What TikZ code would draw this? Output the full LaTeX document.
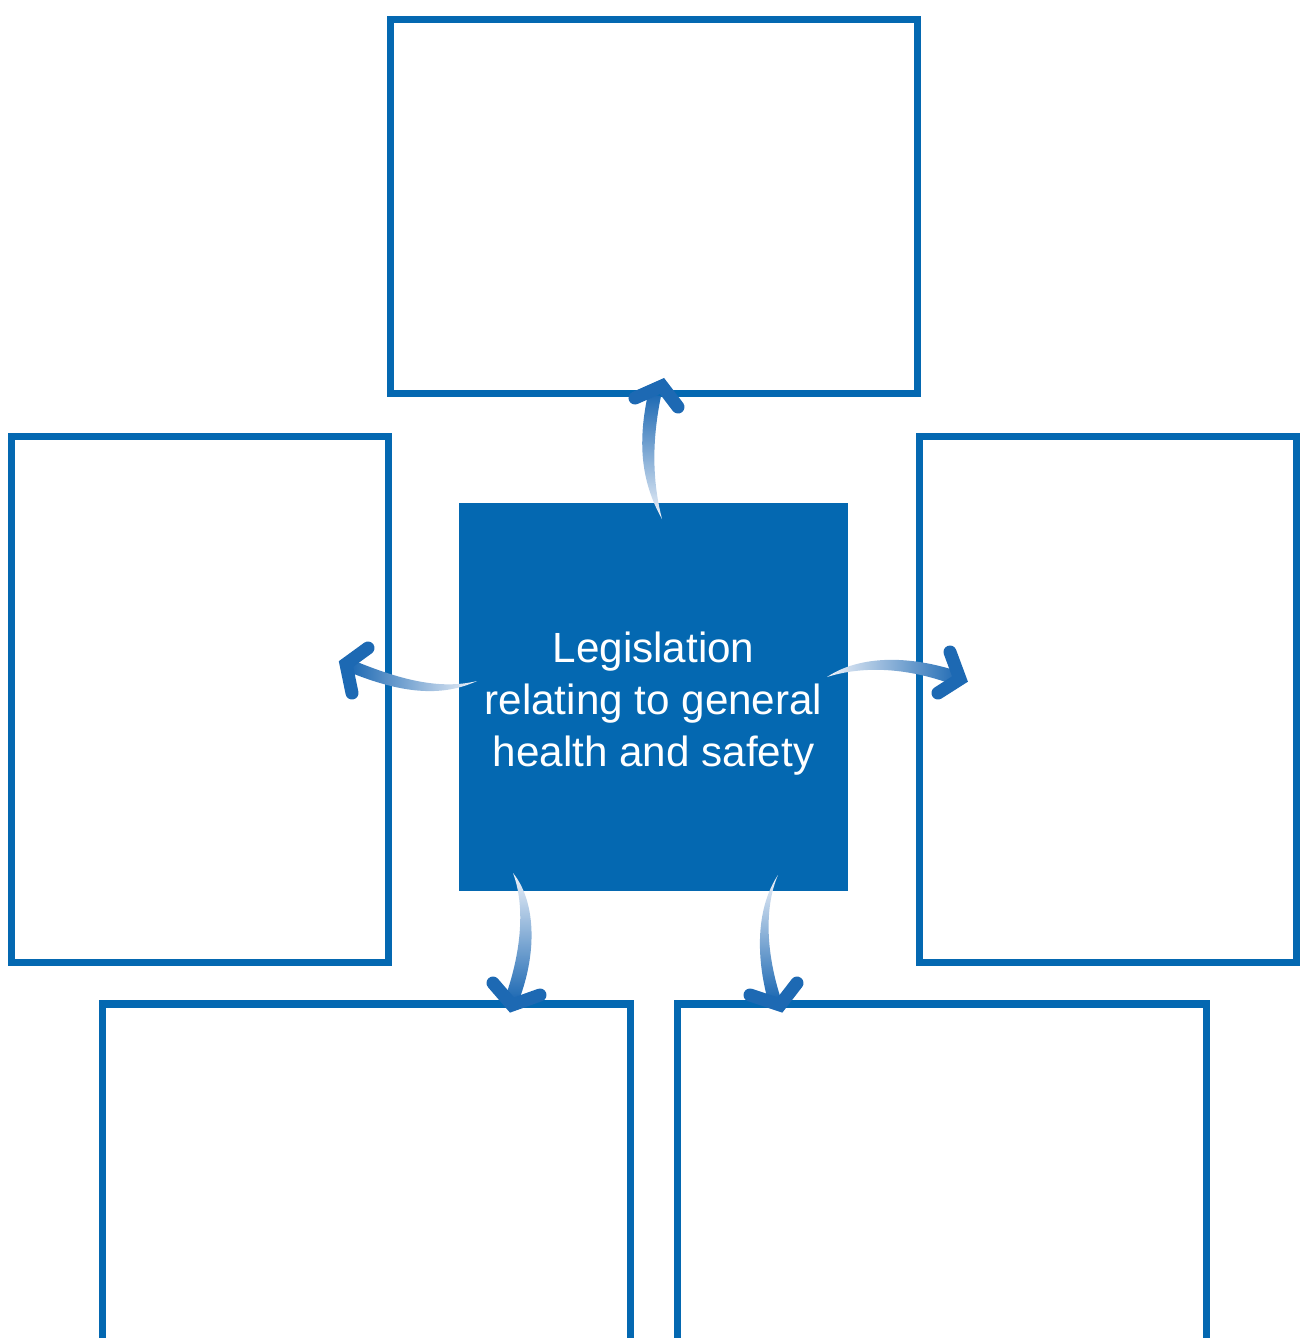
\documentclass[tikz,border=0pt]{standalone}
\usepackage{fontspec}
\setmainfont{Liberation Sans}
\definecolor{xanhkhung}{HTML}{0468B1}
\definecolor{xanhmui}{HTML}{1D69B3}
\definecolor{xanhnhat}{HTML}{EEF2F9}

\begin{document}
\begin{tikzpicture}[x=0.01cm, y=-0.01cm,
		khung/.style={draw=xanhkhung, line width=2pt, inner sep=0pt, outer sep=0pt},
		muiten/.style={draw=xanhmui, line width=3.7pt, line cap=round, line join=miter}]
				\clip (0,0) rectangle (1301,1338);
				% cac khung trong
				\node[khung, minimum width=5.26cm, minimum height=3.73cm] (tren) at (654,206.5) {};
				\node[khung, minimum width=3.76cm, minimum height=5.25cm] (trai) at (200,699.5) {};
				\node[khung, minimum width=3.76cm, minimum height=5.25cm] (phai) at (1108,699.5) {};
				\node[khung, minimum width=5.27cm, minimum height=4cm, anchor=north] (duoitrai) at (366.5,1004) {};
				\node[khung, minimum width=5.28cm, minimum height=4cm, anchor=north] (duoiphai) at (942,1004) {};
				% o giua
				\node[fill=xanhkhung, minimum width=3.89cm, minimum height=3.88cm] (giua) at (653.5,697) {};
				\node[text=white, align=center, font=\fontsize{12}{14.8}\selectfont] (chu) at (653.5,704)
					{Legislation\\relating to general\\health and safety};
				% mui ten len
				\coordinate (t1) at (662,519);
				\coordinate (h1) at (662,386);
				\shade[top color=xanhmui, bottom color=xanhnhat] (t1) .. controls (640,480) and (638,440) .. (648,394)
					-- (661,396) .. controls (652,440) and (652,480) .. (t1) -- cycle;
				\draw[muiten] (635,398) -- (h1) -- (678,407);
				% mui ten trai
				\coordinate (t2) at (477,681);
				\coordinate (h2) at (346,664);
				\shade[left color=xanhmui, right color=xanhnhat] (t2) .. controls (440,690) and (400,680) .. (350,659)
					-- (354,674) .. controls (400,692) and (440,698) .. (t2) -- cycle;
				\draw[muiten] (368,648) -- (h2) -- (352,693);
				% mui ten phai
				\coordinate (t3) at (827,677);
				\coordinate (h3) at (960,679);
				\shade[left color=xanhnhat, right color=xanhmui] (t3) .. controls (860,655) and (910,655) .. (960,672)
					-- (957,686) .. controls (910,668) and (865,665) .. (t3) -- cycle;
				\draw[muiten] (950,652) -- (h3) -- (938,693);
				% mui ten duoi trai
				\coordinate (t4) at (513,873);
				\coordinate (h4) at (512,1005);
				\shade[top color=xanhnhat, bottom color=xanhmui] (t4) .. controls (525,905) and (522,950) .. (505,998)
					-- (519,1000) .. controls (538,950) and (535,900) .. (t4) -- cycle;
				\draw[muiten] (493,983) -- (h4) -- (540,995);
				% mui ten duoi phai
				\coordinate (t5) at (778,875);
				\coordinate (h5) at (780,1005);
				\shade[top color=xanhnhat, bottom color=xanhmui] (t5) .. controls (765,905) and (765,950) .. (781,999)
					-- (767,997) .. controls (755,950) and (758,905) .. (t5) -- cycle;
				\draw[muiten] (750,995) -- (h5) -- (797,983);
			\end{tikzpicture}
\end{document}
